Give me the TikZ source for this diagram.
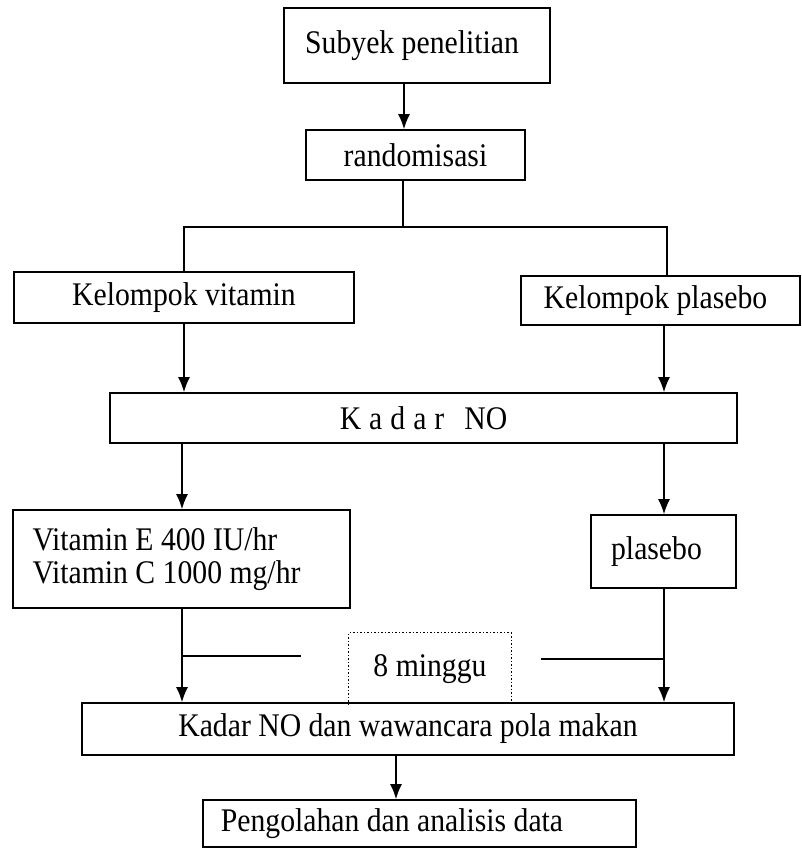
\documentclass[tikz,border=0pt]{standalone}
\usepackage{fontspec}
\setmainfont[FakeStretch=0.9]{Liberation Serif}
\usetikzlibrary{arrows.meta}
\begin{document}
\begin{tikzpicture}[x=1pt,y=-1pt,
  box/.style={draw, line width=1.6pt, inner sep=0pt, font=\fontsize{33}{33}\selectfont},
  lbl/.style={inner sep=0pt, font=\fontsize{33}{33}\selectfont},
  arr/.style={line width=1.6pt, -{Latex[length=15pt,width=12pt]}},
  ln/.style={line width=1.6pt}]
\useasboundingbox (0,0) rectangle (801,848);
\node[box, minimum width=266pt, minimum height=75pt] (sub) at (417,45.5) {\raisebox{5pt}{Subyek penelitian}\kern10pt};
\node[box, minimum width=219pt, minimum height=50pt] (rnd) at (415.5,155) {randomisasi};
\node[box, minimum width=340pt, minimum height=51pt] (kv) at (184,297.5) {Kelompok vitamin};
\node[box, minimum width=279pt, minimum height=49pt] (kp) at (660.5,300.5) {\raisebox{-3pt}{Kelompok plasebo}\kern10pt};
\node[box, minimum width=627pt, minimum height=50pt] (kn) at (423.5,418) {\raisebox{-3pt}{K\hspace{8pt}a\hspace{8pt}d\hspace{8pt}a\hspace{8pt}r\hspace{20pt}NO}};
\node[box, minimum width=337pt, minimum height=98pt, align=left] (vit) at (181.5,559) {Vitamin E 400 IU/hr\\Vitamin C 1000 mg/hr\kern30pt};
\node[box, minimum width=145pt, minimum height=73pt] (pl) at (663.5,551.5) {plasebo\kern14pt};
\node[lbl, minimum width=162pt, minimum height=72pt] (mg) at (430,669) {\raisebox{3pt}{8 minggu}};
\node[box, minimum width=652pt, minimum height=52pt] (kn2) at (408,729) {\raisebox{-3pt}{Kadar NO dan wawancara pola makan}};
\node[box, minimum width=433pt, minimum height=47pt] (pg) at (419.5,823.5) {\raisebox{-4pt}{Pengolahan dan analisis data}\kern55pt};

\coordinate (j) at (403,227);
\coordinate (bl) at (184,227);
\coordinate (br) at (667,227);
\coordinate (L) at (182,0);
\coordinate (R) at (664,0);
\coordinate (C) at (396,0);
\coordinate (tl) at (301,656);
\coordinate (tr) at (541,659);

\draw[arr] ([xshift=-13pt]sub.south) -- ([xshift=-13pt]sub.south |- rnd.north);
\draw[ln] (rnd.south -| j) -- (j);
\draw[ln] (kv.north -| bl) -- (bl) -- (br) -- (br |- kp.north);
\draw[arr] (kv.south -| bl) -- (kn.north -| bl);
\draw[arr] (kp.south -| R) -- (kn.north -| R);
\draw[arr] (kn.south -| L) -- (vit.north -| L);
\draw[arr] (kn.south -| R) -- (pl.north -| R);
\draw[arr] (vit.south -| L) -- (kn2.north -| L);
\draw[arr] (pl.south -| R) -- (kn2.north -| R);
\draw[ln] (tl -| L) -- (tl);
\draw[ln] (tr) -- (tr -| R);
\draw[arr] (kn2.south -| C) -- (pg.north -| C);
\draw[line width=1.2pt, dash pattern=on 1.5pt off 2pt] (mg.south west) -- (mg.north west) -- (mg.north east) -- (mg.south east);
\end{tikzpicture}
\end{document}
